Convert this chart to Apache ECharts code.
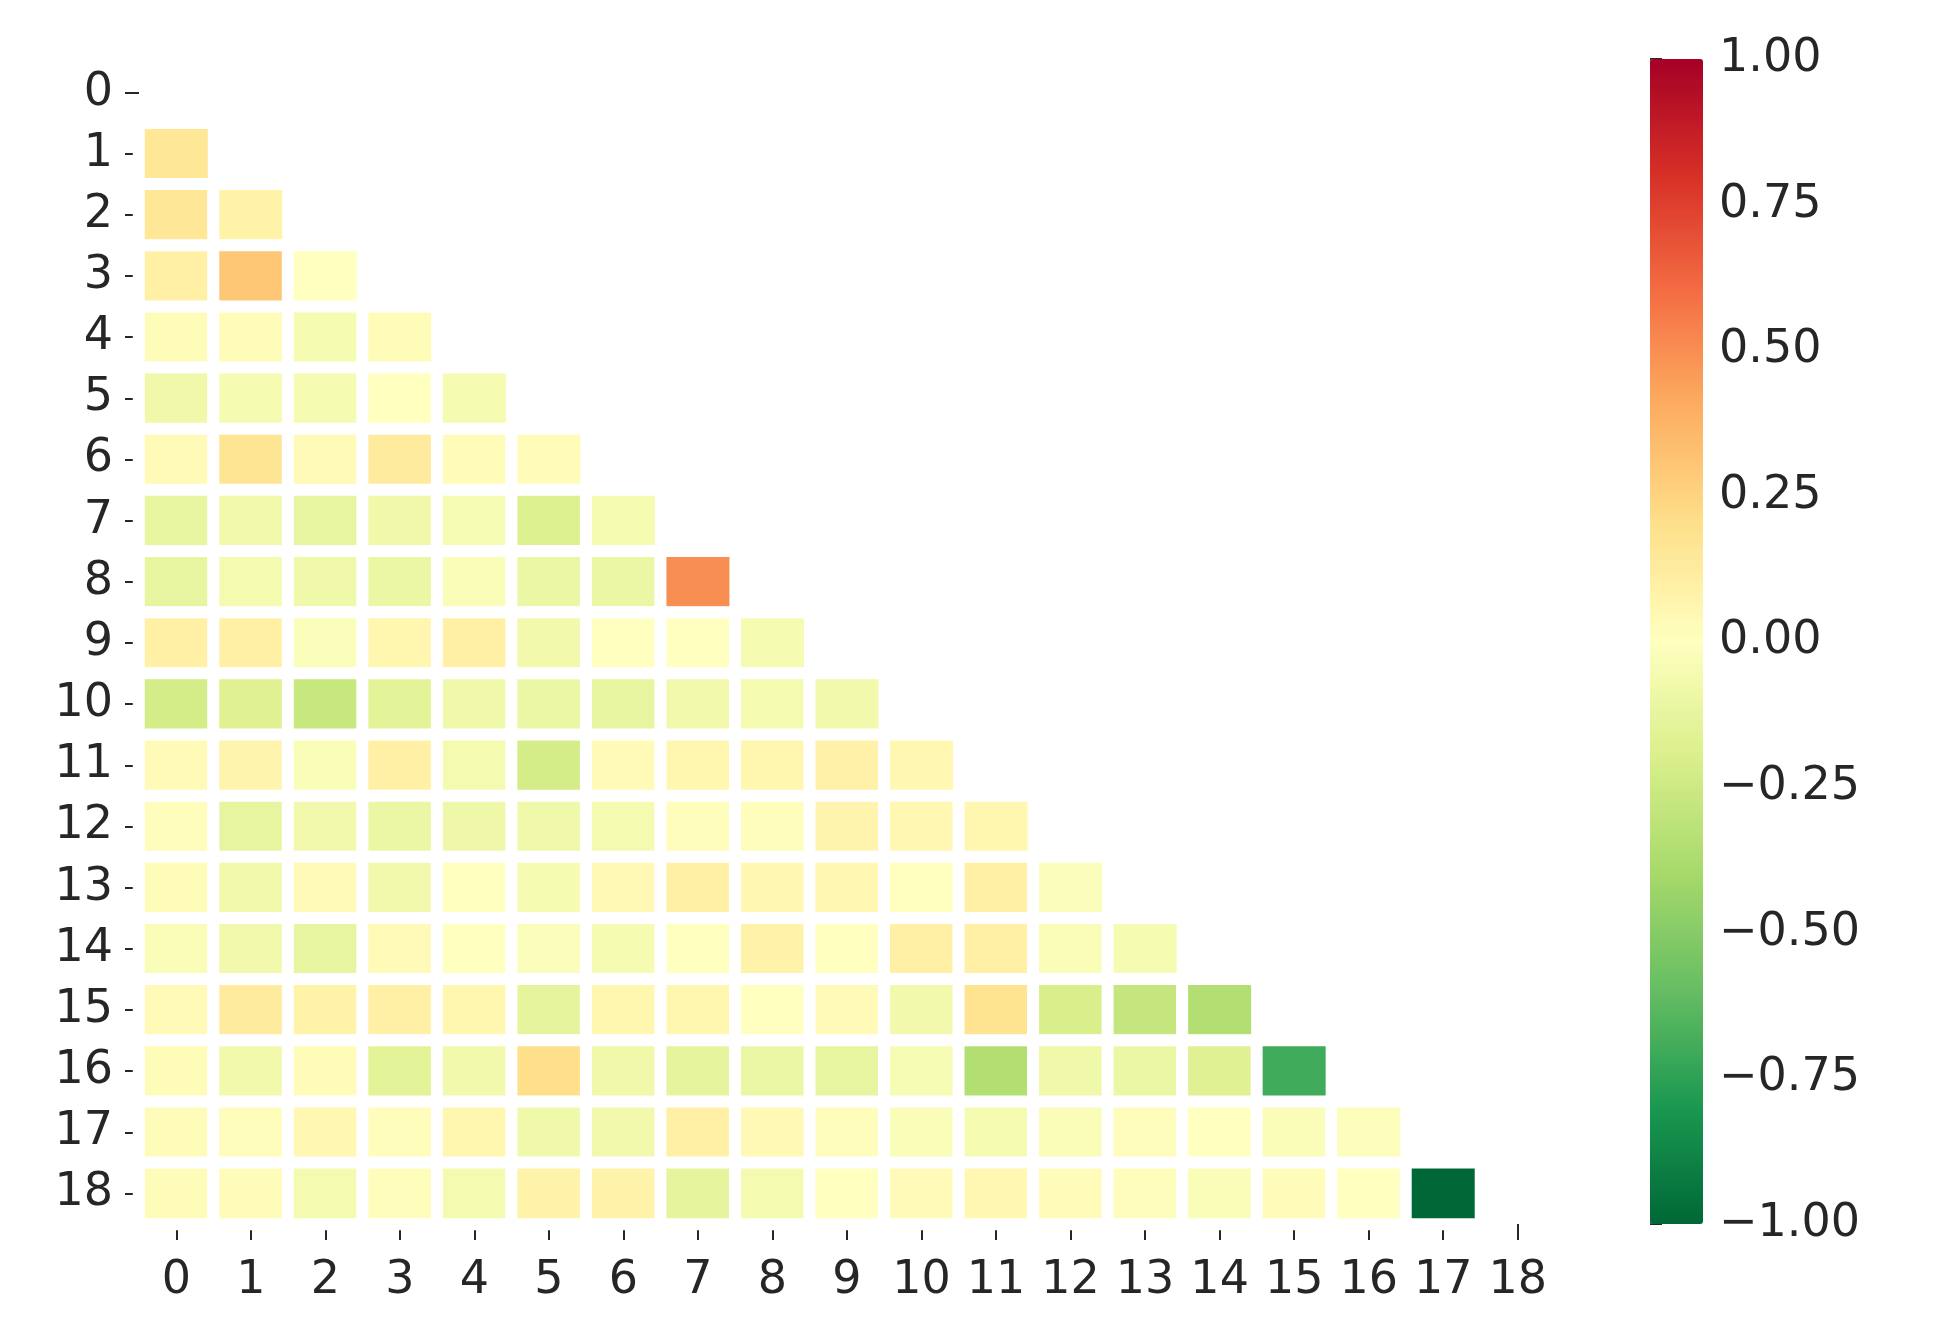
<!DOCTYPE html>
<html>
<head>
<meta charset="utf-8">
<script src="https://cdn.jsdelivr.net/npm/echarts@6/dist/echarts.min.js"></script>
<style>html,body{margin:0;background:#fff}#chart{width:1945px;height:1333px}</style>
</head>
<body>
<div id="chart"></div>
<script>
var labels = ['0','1','2','3','4','5','6','7','8','9','10','11','12','13','14','15','16','17','18'];
var colorTicks = [1, 0.75, 0.5, 0.25, 0, -0.25, -0.5, -0.75, -1];
// lower triangle rows, row i has i values (columns 0..i-1)
var rows = [
	[],
	[0.15],
	[0.15, 0.08],
	[0.1, 0.3, 0.0],
	[0.02, 0.02, -0.05, 0.02],
	[-0.08, -0.05, -0.05, 0.0, -0.05],
	[0.03, 0.17, 0.03, 0.13, 0.02, 0.02],
	[-0.12, -0.07, -0.12, -0.08, -0.04, -0.18, -0.05],
	[-0.12, -0.06, -0.08, -0.1, -0.03, -0.1, -0.1, 0.5],
	[0.1, 0.1, -0.02, 0.06, 0.1, -0.07, 0.0, 0.0, -0.05],
	[-0.22, -0.17, -0.27, -0.15, -0.08, -0.1, -0.12, -0.07, -0.06, -0.07],
	[0.03, 0.07, -0.03, 0.1, -0.06, -0.22, 0.03, 0.06, 0.06, 0.09, 0.05],
	[0.01, -0.12, -0.07, -0.1, -0.09, -0.08, -0.06, 0.01, 0.01, 0.07, 0.05, 0.06],
	[0.02, -0.07, 0.03, -0.07, 0.0, -0.05, 0.04, 0.1, 0.05, 0.05, 0.0, 0.1, -0.02],
	[-0.03, -0.07, -0.12, 0.03, 0.0, -0.02, -0.05, 0.0, 0.08, 0.0, 0.1, 0.1, -0.03, -0.05],
	[0.03, 0.13, 0.08, 0.1, 0.06, -0.13, 0.06, 0.06, 0.0, 0.03, -0.07, 0.18, -0.2, -0.28, -0.35],
	[0.02, -0.07, 0.02, -0.15, -0.07, 0.2, -0.08, -0.13, -0.1, -0.12, -0.04, -0.35, -0.08, -0.1, -0.17, -0.7],
	[0.02, 0.01, 0.05, 0.01, 0.06, -0.08, -0.07, 0.1, 0.04, 0.01, -0.03, -0.05, -0.03, 0.01, 0.0, -0.03, -0.01],
	[0.02, 0.02, -0.06, 0.01, -0.06, 0.08, 0.08, -0.13, -0.06, 0.0, 0.03, 0.05, 0.02, 0.01, -0.03, 0.02, 0.0, -1.0]
];

var data = [];
rows.forEach(function(r, i){
	r.forEach(function(v, j){ data.push([j, i, v]); });
});

var txt = '#262626';
var font = 'DejaVu Sans';
var myChart = echarts.init(document.getElementById('chart'));
myChart.setOption({
	animation: false,
	grid: [
		{left: 139, top: 62, width: 1416, height: 1162},
		{left: 1650, top: 59, width: 53, height: 1165}
	],
	xAxis: [
		{
			type: 'category', data: labels, gridIndex: 0,
			axisLine: {show: false},
			axisTick: {show: true, alignWithLabel: true, interval: 0, length: 16, lineStyle: {color: txt, width: 2}},
			axisLabel: {color: txt, fontSize: 46, fontFamily: font, margin: 34, interval: 0},
			splitLine: {show: false}
		},
		{type: 'value', gridIndex: 1, show: false}
	],
	yAxis: [
		{
			type: 'category', data: labels, inverse: true, gridIndex: 0,
			axisLine: {show: false},
			axisTick: {show: true, alignWithLabel: true, interval: 0, length: 14, lineStyle: {color: txt, width: 2}},
			axisLabel: {color: txt, fontSize: 46, fontFamily: font, margin: 26, interval: 0},
			splitLine: {show: false}
		},
		{
			type: 'value', gridIndex: 1, position: 'right', min: -1, max: 1, interval: 0.25,
			axisLine: {show: false},
			axisTick: {show: true, length: 12, lineStyle: {color: txt, width: 2}},
			axisLabel: {color: txt, fontSize: 46, fontFamily: font, margin: 16,
				formatter: function(v){ return v.toFixed(2).replace('-', '\u2212'); }},
			splitLine: {show: false}
		}
	],
	visualMap: {
		type: 'continuous', min: -1, max: 1, seriesIndex: 0,
		left: 1650, top: 59, itemWidth: 53, itemHeight: 1165, padding: 0,
		calculable: false, text: null, showLabel: false, hoverLink: false,
		inRange: {color: ['#006837','#1a9850','#66bd63','#a6d96a','#d9ef8b','#ffffbf','#fee08b','#fdae61','#f46d43','#d73027','#a50026']}
	},
	series: [{
		type: 'heatmap', data: data, xAxisIndex: 0, yAxisIndex: 0,
		itemStyle: {borderColor: '#fff', borderWidth: 12}
	}]
});
</script>
</body>
</html>
